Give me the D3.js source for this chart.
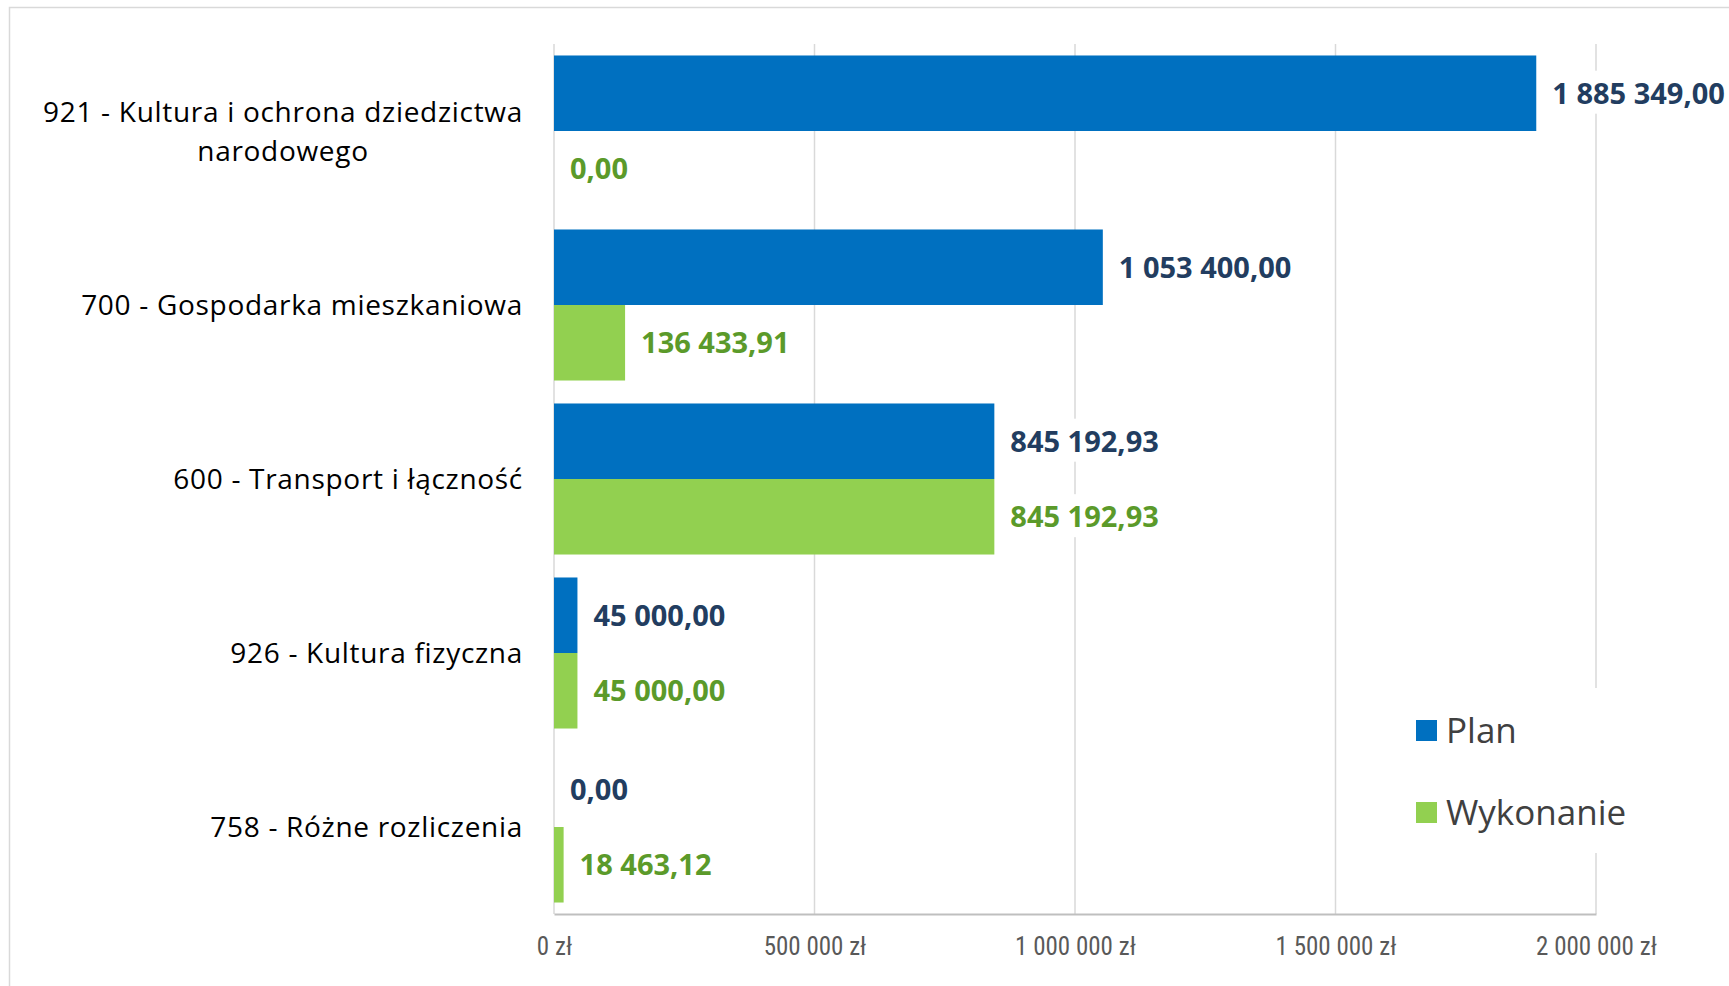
<!DOCTYPE html>
<html>
<head>
<meta charset="utf-8">
<script src="https://cdn.jsdelivr.net/npm/d3@7"></script>
<style>
  html, body { margin: 0; padding: 0; background: #fff; overflow: hidden; }
  svg { display: block; }
</style>
</head>
<body>
<div id="chart"></div>
<script>
var categories = [
  "921 - Kultura i ochrona dziedzictwa narodowego",
  "700 - Gospodarka mieszkaniowa",
  "600 - Transport i łączność",
  "926 - Kultura fizyczna",
  "758 - Różne rozliczenia"
];
var seriesNames = ["Plan", "Wykonanie"];
var planValues = [1885349.00, 1053400.00, 845192.93, 45000.00, 0.00];
var wykonanieValues = [0.00, 136433.91, 845192.93, 45000.00, 18463.12];
var tickValues = [0, 500000, 1000000, 1500000, 2000000];

var width = 1729, height = 986;
var colors = { Plan: "#0070C0", Wykonanie: "#92D050" };
var labelColors = { Plan: "#223D60", Wykonanie: "#5B9A2A" };
var fontMain = "'Open Sans', 'Noto Sans', sans-serif";

var pl = d3.formatLocale({ decimal: ",", thousands: " ", grouping: [3], currency: ["", " zł"] });
var fmtVal = pl.format(",.2f");
var fmtTick = function(d) { return pl.format(",.0f")(d) + " zł"; };

var data = categories.map(function(c, i) {
  return { cat: c, Plan: planValues[i], Wykonanie: wykonanieValues[i] };
});

var svg = d3.select("#chart").append("svg")
  .attr("width", width)
  .attr("height", height);

// chart frame
svg.append("rect")
  .attr("x", 9.5).attr("y", 7.5)
  .attr("width", width + 20).attr("height", height + 20)
  .attr("fill", "#fff").attr("stroke", "#D9D9D9").attr("stroke-width", 1.5);

var x = d3.scaleLinear().domain([0, 2000000]).range([554, 1596]);
var y0 = d3.scaleBand().domain(categories).range([44, 914])
  .paddingInner(0.132).paddingOuter(0.066);
var y1 = d3.scaleBand().domain(seriesNames).range([0, y0.bandwidth()]);

// gridlines
svg.append("g").selectAll("line").data(tickValues).join("line")
  .attr("x1", function(d) { return x(d); })
  .attr("x2", function(d) { return x(d); })
  .attr("y1", 44).attr("y2", 914)
  .attr("stroke", "#D9D9D9").attr("stroke-width", 1.5);

// bottom axis
var xAxis = svg.append("g")
  .attr("transform", "translate(0,914)")
  .call(d3.axisBottom(x).tickValues(tickValues).tickFormat(fmtTick).tickSize(0).tickPadding(23));
xAxis.select(".domain").attr("stroke", "#BFBFBF").attr("stroke-width", 2);
xAxis.selectAll("text")
  .attr("fill", "#595959")
  .style("font-family", "'Liberation Sans Narrow', 'Roboto Condensed', Roboto, sans-serif")
  .style("font-size", "25px");

// bars
var groups = svg.append("g").selectAll("g").data(data).join("g")
  .attr("transform", function(d) { return "translate(0," + y0(d.cat) + ")"; });

groups.selectAll("rect").data(function(d) {
  return seriesNames.map(function(s) { return { key: s, value: d[s] }; });
}).join("rect")
  .attr("x", x(0))
  .attr("y", function(d) { return y1(d.key); })
  .attr("width", function(d) { return x(d.value) - x(0); })
  .attr("height", y1.bandwidth())
  .attr("fill", function(d) { return colors[d.key]; });

// value labels
var labels = groups.selectAll("g.lbl").data(function(d) {
  return seriesNames.map(function(s) { return { key: s, value: d[s] }; });
}).join("g").attr("class", "lbl");

labels.append("text")
  .attr("x", function(d) { return x(d.value) + 16; })
  .attr("y", function(d) { return y1(d.key) + y1.bandwidth() / 2; })
  .attr("dy", "0.36em")
  .attr("fill", function(d) { return labelColors[d.key]; })
  .style("font-family", fontMain)
  .style("font-weight", "bold")
  .style("font-size", "29px")
  .text(function(d) { return fmtVal(d.value); });

labels.each(function() {
  var t = d3.select(this).select("text");
  var b = t.node().getBBox();
  d3.select(this).insert("rect", "text")
    .attr("x", b.x - 6).attr("y", b.y - 2)
    .attr("width", b.width + 12).attr("height", b.height + 4)
    .attr("fill", "#fff");
});

// category labels
var catG = svg.append("g");
catG.selectAll("text").data(categories).join("text")
  .attr("x", 523)
  .attr("y", function(d) { return y0(d) + y0.bandwidth() / 2; })
  .attr("text-anchor", "end")
  .attr("fill", "#000")
  .style("font-family", fontMain)
  .style("font-size", "28px")
  .style("letter-spacing", "0.7px")
  .each(function(d) {
    var el = d3.select(this);
    var words = d.split(" "), lines = [], line = [];
    var probe = el.append("tspan");
    words.forEach(function(w) {
      line.push(w);
      probe.text(line.join(" "));
      if (probe.node().getComputedTextLength() > 500 && line.length > 1) {
        line.pop();
        lines.push(line.join(" "));
        line = [w];
      }
    });
    lines.push(line.join(" "));
    probe.remove();
    var lh = 39;
    var yc = +el.attr("y");
    lines.forEach(function(l, i) {
      el.append("tspan")
        .attr("x", 523)
        .attr("y", yc + (i - (lines.length - 1) / 2) * lh)
        .attr("dy", "0.36em")
        .text(l);
    });
    if (lines.length > 1) {
      // centre wrapped lines on the longest line
      var maxW = 0;
      el.selectAll("tspan").each(function() { maxW = Math.max(maxW, this.getComputedTextLength()); });
      el.attr("text-anchor", "middle");
      el.selectAll("tspan").attr("x", 523 - maxW / 2);
    }
  });

// legend
var lg = svg.append("g");
lg.append("rect").attr("x", 1405).attr("y", 688).attr("width", 330).attr("height", 165).attr("fill", "#fff");
var li = lg.selectAll("g").data(seriesNames).join("g")
  .attr("transform", function(d, i) { return "translate(1416," + (720 + i * 82) + ")"; });
li.append("rect").attr("width", 21).attr("height", 21).attr("fill", function(d) { return colors[d]; });
li.append("text")
  .attr("x", 30).attr("y", 10.5).attr("dy", "0.36em")
  .attr("fill", "#404040")
  .style("font-family", fontMain)
  .style("font-size", "35px")
  .text(function(d) { return d; });
</script>
</body>
</html>
